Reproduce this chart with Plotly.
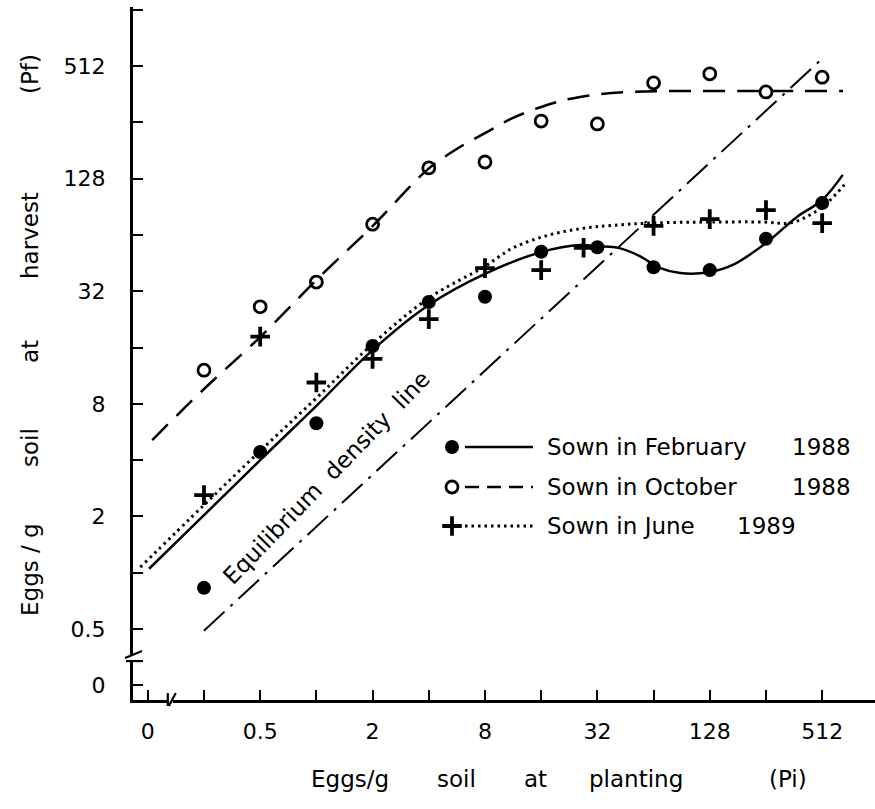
import math
import plotly.graph_objects as go

# ---------------- data ----------------
pi_vals = [0.25, 0.5, 1, 2, 4, 8, 16, 32, 64, 128, 256, 512]
pf_feb = [0.83, 4.42, 6.3, 16.3, 28, 29.9, 52, 55, 43, 41.5, 61, 94.8]
pf_oct = [12.1, 26.4, 35.8, 73, 146, 157, 260, 251, 416, 465, 372, 446]
pi_jun = [0.25, 0.5, 1, 2, 4, 8, 16, 27, 64, 128, 256, 512]
pf_jun = [2.6, 18.3, 10.4, 13.9, 22.7, 42.5, 41.5, 54.6, 71.5, 77.7, 86.8, 74]

# fitted curves
fit_feb_x = [0.127, 0.25, 0.5, 1, 2, 4, 8, 16, 26, 32, 42, 54, 69, 89, 128, 170, 256, 375, 512, 660]
fit_feb_y = [1.05, 2.03, 4.0, 7.8, 15.5, 27.0, 39.6, 51.8, 56.5, 55.7, 54.4, 49.3, 42.6, 40.0, 40.5, 44.2, 57.9, 79.8, 98.4, 134]
fit_oct_x = [0.132, 0.25, 0.5, 1, 2, 3.91, 5.53, 8, 11.3, 17.2, 25.8, 47.8, 113, 662]
fit_oct_y = [5.12, 9.6, 18.2, 36.7, 71.4, 142, 182, 224, 270, 317, 350, 372, 376, 376]
fit_jun_x = [0.114, 0.25, 0.5, 1, 2, 4, 8, 11.3, 17.2, 25.8, 38.8, 63.5, 133, 247, 344, 440, 543, 685]
fit_jun_y = [1.07, 2.30, 4.48, 8.59, 16.7, 29.4, 43.5, 54.5, 63.5, 69.0, 72.0, 74.1, 75.0, 75.0, 74.1, 81.8, 94.8, 121]
equil_x = [0.25, 512]
equil_y = [0.49, 560]

x_tickvals = [0.125, 0.25, 0.5, 1, 2, 4, 8, 16, 32, 64, 128, 256, 512]
x_ticktext = ["0", "", "0.5", "", "2", "", "8", "", "32", "", "128", "", "512"]
y_tickvals = [0.25, 0.5, 1, 2, 4, 8, 16, 32, 64, 128, 256, 512, 1024]
y_ticktext = ["0", "0.5", "", "2", "", "8", "", "32", "", "128", "", "512", ""]

legend_labels = ["Sown in February", "Sown in October", "Sown in June"]
legend_years = ["1988", "1988", "1989"]

# ---------------- layout geometry ----------------
W, H = 875, 809
L, R, T, B = 133, 0, 7, 109
FONT = "DejaVu Sans"
PW, PH = W - L - R, H - T - B


def pxx(x):
    return (x - L) / PW


def pxy(y):
    return (H - B - y) / PH


fig = go.Figure()

fig.add_trace(go.Scatter(x=equil_x, y=equil_y, mode="lines",
                         line=dict(color="black", width=2, dash="28px,8px,3px,8px"),
                         showlegend=False))
fig.add_trace(go.Scatter(x=fit_oct_x, y=fit_oct_y, mode="lines", line_shape="spline",
                         line=dict(color="black", width=2.5, dash="22px,12px"), showlegend=False))
fig.add_trace(go.Scatter(x=fit_jun_x, y=fit_jun_y, mode="lines", line_shape="spline",
                         line=dict(color="black", width=3, dash="2.5px,4px"), showlegend=False))
fig.add_trace(go.Scatter(x=fit_feb_x, y=fit_feb_y, mode="lines", line_shape="spline",
                         line=dict(color="black", width=2.5), showlegend=False))

m_feb = dict(symbol="circle", size=14, color="black")
m_oct = dict(symbol="circle-open", size=12, color="black", line=dict(width=2.8, color="black"))
m_jun = dict(symbol="cross-thin", size=14, color="black", line=dict(width=3.8, color="black"))

fig.add_trace(go.Scatter(x=pi_vals, y=pf_feb, mode="markers", marker=m_feb, showlegend=False))
fig.add_trace(go.Scatter(x=pi_vals, y=pf_oct, mode="markers", marker=m_oct, showlegend=False))
fig.add_trace(go.Scatter(x=pi_jun, y=pf_jun, mode="markers", marker=m_jun, showlegend=False))

# ---------------- hand-drawn legend on a pixel overlay axis ----------------
rows_y = [447, 487, 526]
year_x = [790, 790, 735]
markers = [m_feb, m_oct, m_jun]
dashes = ["solid", "14px,8px", "2.5px,4px"]
widths = [2.5, 2.5, 3]
for i in range(3):
    fig.add_trace(go.Scatter(x=[465, 533], y=[rows_y[i], rows_y[i]], mode="lines",
                             line=dict(color="black", width=widths[i], dash=dashes[i]),
                             xaxis="x2", yaxis="y2", showlegend=False))
    fig.add_trace(go.Scatter(x=[452], y=[rows_y[i]], mode="markers", marker=markers[i],
                             xaxis="x2", yaxis="y2", showlegend=False))

TXT = dict(family=FONT, size=23, color="black")
annotations = []
for i in range(3):
    annotations.append(dict(x=pxx(545), y=pxy(rows_y[i]), xref="paper", yref="paper",
                            text=legend_labels[i], showarrow=False, xanchor="left", yanchor="middle",
                            font=TXT))
    annotations.append(dict(x=pxx(year_x[i]), y=pxy(rows_y[i]), xref="paper", yref="paper",
                            text=legend_years[i], showarrow=False, xanchor="left", yanchor="middle",
                            font=TXT))

# axis titles, spaced word by word like the original
for word, yy in [("Eggs / g", 570), ("soil", 448), ("at", 352), ("harvest", 236), ("(Pf)", 74)]:
    annotations.append(dict(x=pxx(30), y=pxy(yy), xref="paper", yref="paper", text=word,
                            showarrow=False, textangle=-90, xanchor="center", yanchor="middle",
                            font=TXT))
for word, xx in [("Eggs/g", 350), ("soil", 456), ("at", 535), ("planting", 636), ("(Pi)", 788)]:
    annotations.append(dict(x=pxx(xx), y=pxy(779), xref="paper", yref="paper", text=word,
                            showarrow=False, xanchor="center", yanchor="middle",
                            font=TXT))

annotations.append(dict(x=pxx(326), y=pxy(478), xref="paper", yref="paper",
                        text="Equilibrium  density  line", showarrow=False, textangle=-46,
                        xanchor="center", yanchor="middle",
                        font=dict(family=FONT, size=23, color="black")))

# ---------------- axis breaks ----------------
shapes = []
xb = 0.160  # position of break on the x axis (data units)
yb = 0.337  # position of break on the y axis (data units)
shapes.append(dict(type="rect", xref="x", yref="paper", xsizemode="pixel", ysizemode="pixel",
                   xanchor=xb, yanchor=0, x0=-6, x1=5, y0=-4, y1=4,
                   fillcolor="white", line=dict(width=0), layer="above"))
shapes.append(dict(type="line", xref="x", yref="paper", xsizemode="pixel", ysizemode="pixel",
                   xanchor=xb, yanchor=0, x0=-10, y0=-6, x1=-3, y1=7,
                   line=dict(color="black", width=2.2), layer="above"))
shapes.append(dict(type="line", xref="x", yref="paper", xsizemode="pixel", ysizemode="pixel",
                   xanchor=xb, yanchor=0, x0=1, y0=-6, x1=8, y1=7,
                   line=dict(color="black", width=2.2), layer="above"))
shapes.append(dict(type="rect", xref="paper", yref="y", xsizemode="pixel", ysizemode="pixel",
                   xanchor=0, yanchor=yb, x0=-5, x1=5, y0=-4, y1=5,
                   fillcolor="white", line=dict(width=0), layer="above"))
shapes.append(dict(type="line", xref="paper", yref="y", xsizemode="pixel", ysizemode="pixel",
                   xanchor=0, yanchor=yb, x0=-8, y0=3, x1=9, y1=10,
                   line=dict(color="black", width=2.2), layer="above"))
shapes.append(dict(type="line", xref="paper", yref="y", xsizemode="pixel", ysizemode="pixel",
                   xanchor=0, yanchor=yb, x0=-7, y0=-10, x1=10, y1=-3,
                   line=dict(color="black", width=2.2), layer="above"))

l2 = math.log10(2)
fig.update_layout(
    width=W, height=H, autosize=False,
    margin=dict(l=L, r=R, t=T, b=B, pad=0),
    paper_bgcolor="white", plot_bgcolor="white",
    showlegend=False,
    font=dict(family=FONT, size=22, color="black"),
    xaxis=dict(type="log", range=[-3.263 * l2, 9.94 * l2],
               tickmode="array", tickvals=x_tickvals, ticktext=x_ticktext,
               ticks="inside", ticklen=10, tickwidth=2, tickcolor="black",
               showline=True, linewidth=2.5, linecolor="black",
               showgrid=False, zeroline=False, ticklabelstandoff=10,
               tickfont=dict(family=FONT, size=22, color="black")),
    yaxis=dict(type="log", range=[-2.261 * l2, 10.048 * l2],
               tickmode="array", tickvals=y_tickvals, ticktext=y_ticktext,
               ticks="inside", ticklen=10, tickwidth=2, tickcolor="black",
               showline=True, linewidth=3, linecolor="black",
               showgrid=False, zeroline=False, ticklabelstandoff=20,
               tickfont=dict(family=FONT, size=22, color="black")),
    xaxis2=dict(overlaying="x", range=[L, W - R], visible=False, anchor="y2"),
    yaxis2=dict(overlaying="y", range=[H - B, T], visible=False, anchor="x2"),
    annotations=annotations,
    shapes=shapes,
)

fig.write_html("out.html", config={"displayModeBar": False})
